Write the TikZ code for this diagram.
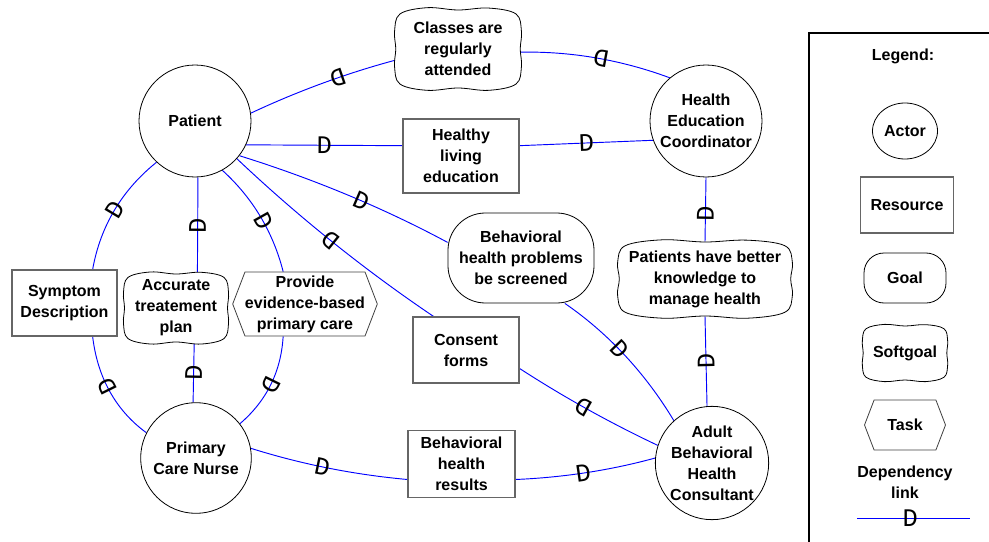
\documentclass[tikz,border=0pt]{standalone}
\usepackage{fontspec}
\setmainfont{Liberation Sans}
\newfontfamily\dfont{Liberation Mono}
\usetikzlibrary{shapes.misc,shapes.symbols,shapes.geometric,backgrounds}

\newcommand{\softgoal}[6]{%
  \draw[sgline, shift={(#2,#3)}, xscale=#4/2, yscale=#5/2]
    plot[smooth cycle, tension=0.6] coordinates {(-0.95,0.9) (-0.5,1.06) (0,1.0) (0.5,1.06) (0.95,0.9) (1.04,0.45) (1.02,0) (1.04,-0.45) (0.95,-0.9) (0.5,-1.05) (0,-1.0) (-0.5,-1.06) (-0.95,-0.9) (-1.04,-0.45) (-1.02,0) (-1.04,0.45)};
  \node[txt, minimum width=#4*0.75pt, minimum height=#5*0.75pt] (#1) at (#2,#3) {#6};
}

\begin{document}
\begin{tikzpicture}[x=0.75pt, y=-0.75pt,
    txt/.style={font=\bfseries\fontsize{12}{15.75}\selectfont, align=center, inner sep=0pt},
    actor/.style={txt, circle, draw=black, line width=0.6pt, fill=white, minimum size=84pt},
    resource/.style={txt, rectangle, draw=black!60, line width=0.8pt, fill=white},
    goal/.style={txt, rectangle, rounded corners=28pt, draw=black, line width=0.6pt, fill=white},
    sgline/.style={draw=black, line width=0.6pt, fill=white},
    task/.style={txt, signal, signal to=east and west, signal pointer angle=138, draw=black!75, line width=0.6pt, fill=white},
    dep/.style={blue, line width=0.7pt},
    dmark/.style={sloped, allow upside down, inner sep=0pt, text=black, font=\dfont\fontsize{19}{19}\selectfont},
    legendbox/.style={draw=black, line width=1.1pt}]
  \useasboundingbox (0,0) rectangle (989,542);

  % actors
  \node[actor] (pat) at (195,121) {Patient};
  \node[actor] (hec) at (706,121) {Health\\Education\\Coordinator};
  \node[actor, minimum size=83pt] (pcn) at (196,458) {Primary\\Care Nurse};
  \node[actor, minimum size=85pt] (abhc) at (712,463) {Adult\\Behavioral\\Health\\Consultant};

  % dependums
  \softgoal{cls}{458}{49}{122}{78}{Classes are\\regularly\\attended}
  \node[resource, minimum width=87pt, minimum height=55.5pt] (hle) at (461,156) {Healthy\\living\\education};
  \node[goal, minimum width=109.5pt, minimum height=67.5pt] (scr) at (521,258) {Behavioral\\health problems\\be screened};
  \softgoal{pbk}{705}{279}{168}{74}{Patients have better\\knowledge to\\manage health}
  \node[resource, minimum width=79.5pt, minimum height=49.5pt] (cns) at (466,350) {Consent\\forms};
  \node[resource, minimum width=80.25pt, minimum height=50.25pt] (bhr) at (461.5,464) {Behavioral\\health\\results};
  \node[resource, minimum width=78.75pt, minimum height=49.5pt] (sym) at (64.5,303) {Symptom\\Description};
  \softgoal{atp}{176}{308}{101}{68}{Accurate\\treatement\\plan}
  \node[task, minimum width=105.75pt, minimum height=48pt] (pec) at (305,304) {Provide\\evidence-based\\primary care};

  % legend
  \draw[legendbox] (809,33) rectangle (1000,560);
  \node[txt] (lgd) at (903,56) {Legend:};
  \node[actor, ellipse, minimum width=48.75pt, minimum height=42pt] (lact) at (905,131) {Actor};
  \node[resource, minimum width=69.75pt, minimum height=42pt] (lres) at (907,205) {Resource};
  \node[goal, rounded corners=15pt, minimum width=61.5pt, minimum height=37.5pt] (lgoal) at (905,278) {Goal};
  \softgoal{lsoft}{905}{353}{82}{54}{Softgoal}
  \node[task, minimum width=60.75pt, minimum height=37.5pt] (ltask) at (905,425) {Task};
  \node[txt] (ldep) at (905,482) {Dependency\\link};
  \coordinate (lk1) at (857,518);
  \coordinate (lk2) at (970,518);
  \draw[dep] (lk1) -- node[dmark, pos=0.47] {D} (lk2);

  % dependency links
  \begin{scope}[on background layer]
    \draw[dep] (cls.190) .. controls (347.9,72.8) and (298.4,90.8) .. node[dmark, pos=0.4] {D} (pat.8);
    \draw[dep] (hec.130) .. controls (620.7,59.6) and (569.7,51) .. node[dmark, pos=0.46] {D} (cls.-3);
    \draw[dep] (pat.-25) -- node[dmark] {D} (hle.170);
    \draw[dep] (hle.10) -- node[dmark] {D} (hec.200);
    \draw[dep] (pbk.north) -- node[dmark, pos=0.44] {D} (hec.south);
    \draw[dep] (abhc.95) -- node[dmark] {D} (pbk.south);
    \draw[dep] (pat.-38) .. controls (312.2,178.4) and (382.7,207.5) .. node[dmark, pos=0.57] {D} (scr.168);
    \draw[dep] (scr.-46) .. controls (608.1,333.1) and (645.4,373.2) .. node[dmark, pos=0.45] {D} (abhc.132);
    \draw[dep] (cns.134) .. controls (364,269.5) and (298.1,216.6) .. node[dmark, pos=0.51] {D} (pat.-42);
    \draw[dep] (abhc.162) .. controls (610.2,422.9) and (563.7,397.1) .. node[dmark, pos=0.53] {D} (cns.-19);
    \draw[dep] (atp.58) -- node[dmark] {D} (pat.-87);
    \draw[dep] (pcn.93) -- node[dmark] {D} (atp.-62);
    \draw[dep] (sym.50) .. controls (100.4,226) and (122,190) .. node[dmark] {D} (pat.227);
    \draw[dep] (pcn.153) .. controls (114.9,409.8) and (97.3,376.2) .. node[dmark, pos=0.55] {D} (sym.-50);
    \draw[dep] (pat.-61) .. controls (252.6,197.8) and (273,231.8) .. node[dmark, pos=0.55] {D} (pec.124);
    \draw[dep] (pec.-124) .. controls (281.1,371.4) and (266.7,400.8) .. node[dmark] {D} (pcn.38);
    \draw[dep] (pcn.10) .. controls (302,464.4) and (354.5,474.7) .. node[dmark, pos=0.46] {D} (bhr.196);
    \draw[dep] (bhr.-16) .. controls (562.7,477.5) and (609.6,470.5) .. node[dmark, pos=0.48] {D} (abhc.175);
  \end{scope}
\end{tikzpicture}
\end{document}
